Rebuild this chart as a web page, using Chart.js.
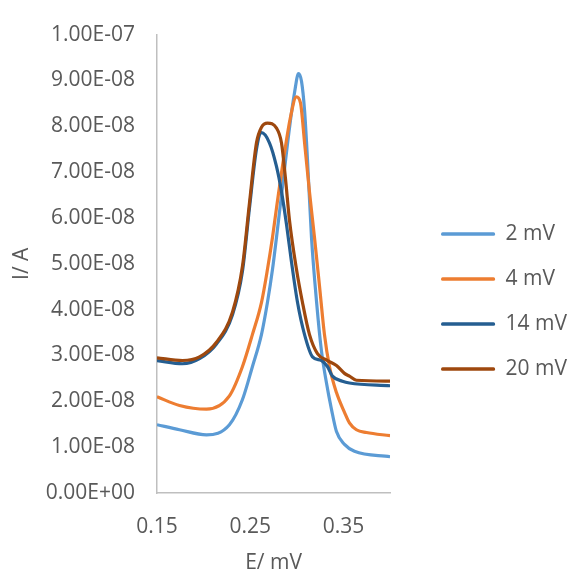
<!DOCTYPE html>
<html>
<head>
<meta charset="utf-8">
<script src="https://cdn.jsdelivr.net/npm/chart.js@4"></script>
<style>
  html, body { margin: 0; padding: 0; background: #fff; }
</style>
</head>
<body>
<canvas id="chart" width="568" height="575"></canvas>
<script>
// ---- values (E in V, I in A) ----
const e2 = [0.1500, 0.1741, 0.2031, 0.2277, 0.2417, 0.2524, 0.2621, 0.2685, 0.2739, 0.2782, 0.2847, 0.2922, 0.2975, 0.3018, 0.3050, 0.3083, 0.3114, 0.3157, 0.3212, 0.3264, 0.3318, 0.3371, 0.3425, 0.3511, 0.3618, 0.4000];
const i2 = [1.49e-8, 1.38e-8, 1.27e-8, 1.49e-8, 2.04e-8, 2.76e-8, 3.46e-8, 4.16e-8, 4.88e-8, 5.58e-8, 6.70e-8, 7.98e-8, 8.73e-8, 9.15e-8, 8.98e-8, 8.34e-8, 7.28e-8, 5.58e-8, 4.16e-8, 3.10e-8, 2.40e-8, 1.83e-8, 1.34e-8, 1.06e-8, 0.91e-8, 0.79e-8];

const e4 = [0.1500, 0.1741, 0.2031, 0.2277, 0.2417, 0.2524, 0.2621, 0.2685, 0.2739, 0.2782, 0.2866, 0.2932, 0.2995, 0.3039, 0.3083, 0.3135, 0.3189, 0.3243, 0.3296, 0.3350, 0.3425, 0.3511, 0.3564, 0.3639, 0.3747, 0.4000];
const i4 = [2.10e-8, 1.91e-8, 1.83e-8, 2.12e-8, 2.76e-8, 3.46e-8, 4.16e-8, 4.88e-8, 5.58e-8, 6.22e-8, 7.40e-8, 8.20e-8, 8.64e-8, 8.51e-8, 7.64e-8, 6.58e-8, 5.58e-8, 4.52e-8, 3.46e-8, 2.76e-8, 2.19e-8, 1.76e-8, 1.53e-8, 1.38e-8, 1.32e-8, 1.25e-8];

const e14 = [0.1500, 0.1773, 0.1956, 0.2138, 0.2310, 0.2417, 0.2492, 0.2567, 0.2621, 0.2706, 0.2781, 0.2835, 0.2889, 0.2942, 0.3007, 0.3082, 0.3168, 0.3264, 0.3328, 0.3382, 0.3489, 0.3564, 0.4000];
const i14 = [2.89e-8, 2.82e-8, 2.93e-8, 3.25e-8, 3.89e-8, 4.84e-8, 6.22e-8, 7.50e-8, 7.86e-8, 7.64e-8, 7.13e-8, 6.58e-8, 5.86e-8, 5.05e-8, 4.16e-8, 3.46e-8, 2.97e-8, 2.89e-8, 2.76e-8, 2.55e-8, 2.44e-8, 2.40e-8, 2.34e-8];

const e20 = [0.1500, 0.1773, 0.1956, 0.2138, 0.2310, 0.2417, 0.2492, 0.2567, 0.2621, 0.2685, 0.2782, 0.2835, 0.2878, 0.2921, 0.2996, 0.3060, 0.3135, 0.3221, 0.3328, 0.3425, 0.3511, 0.3564, 0.3639, 0.4000];
const i20 = [2.95e-8, 2.89e-8, 2.97e-8, 3.29e-8, 3.95e-8, 4.95e-8, 6.33e-8, 7.64e-8, 7.98e-8, 8.07e-8, 7.96e-8, 7.64e-8, 6.86e-8, 5.95e-8, 4.88e-8, 4.16e-8, 3.46e-8, 3.04e-8, 2.89e-8, 2.78e-8, 2.61e-8, 2.55e-8, 2.46e-8, 2.44e-8];

const seriesNames = ["2 mV", "4 mV", "14 mV", "20 mV"];
const seriesColors = ["#5B9BD5", "#ED7D31", "#255E91", "#9E480E"];
const xTicks = [0.15, 0.25, 0.35];

const xs = [e2, e4, e14, e20];
const ys = [i2, i4, i14, i20];

// excel style 1.00E-07
function sci(v) {
  const parts = v.toExponential(2).split("e");
  const n = parseInt(parts[1], 10);
  return parts[0] + "E" + (n < 0 ? "-" : "+") + String(Math.abs(n)).padStart(2, "0");
}

Chart.defaults.font.family = '"Open Sans", sans-serif';
Chart.defaults.font.size = 21;
Chart.defaults.color = "#595959";

const datasets = seriesNames.map((name, k) => ({
  label: name,
  data: xs[k].map((x, j) => ({ x: x, y: ys[k][j] })),
  showLine: true,
  borderColor: seriesColors[k],
  backgroundColor: seriesColors[k],
  borderWidth: 3.2,
  pointRadius: 0,
  cubicInterpolationMode: "monotone",
  order: seriesNames.length - 1 - k, // later series on top, like excel
}));

const axisGrey = "#bfbfbf";

new Chart(document.getElementById("chart"), {
  type: "scatter",
  data: { datasets },
  options: {
    responsive: false,
    animation: false,
    layout: { padding: { top: 22, right: -9, bottom: -6, left: 0 } },
    plugins: {
      tooltip: { enabled: false },
      legend: {
        position: "right",
        align: "center",
        maxWidth: 220,
        labels: {
          boxWidth: 54,
          boxHeight: 3.5,
          padding: 24,
          color: "#595959",
          font: { size: 21 },
          sort: (a, b) => a.datasetIndex - b.datasetIndex,
          generateLabels(chart) {
            const items = Chart.defaults.plugins.legend.labels.generateLabels(chart);
            return items.map((it) => Object.assign(it, {
              fillStyle: it.strokeStyle,
              lineWidth: 0,
              borderRadius: 1.5,
            }));
          },
          useBorderRadius: true,
          borderRadius: 1.5,
        },
      },
    },
    scales: {
      x: {
        type: "linear",
        min: 0.15,
        max: 0.4,
        grid: { display: false, drawTicks: false },
        border: { display: true, color: axisGrey, width: 1.5 },
        afterBuildTicks(scale) {
          scale.ticks = xTicks.map((v) => ({ value: v }));
        },
        ticks: {
          padding: 21,
          maxRotation: 0,
          callback: (v) => Number(v).toFixed(2),
        },
        title: { display: true, text: "E/ mV", padding: { top: 0, bottom: 5 } },
        afterFit(scale) { scale.height = 88; },
      },
      y: {
        type: "linear",
        min: 0,
        max: 1e-7,
        grid: { display: false, drawTicks: false },
        border: { display: true, color: axisGrey, width: 1.5 },
        ticks: {
          stepSize: 1e-8,
          padding: 22,
          callback: (v) => sci(v),
        },
        title: { display: true, text: "I/ A", padding: { top: 9, bottom: 0 } },
        afterFit(scale) { scale.width = 157; },
      },
      // empty strip between plot and legend
      gap: {
        type: "linear",
        position: "right",
        display: true,
        grid: { display: false, drawTicks: false },
        border: { display: false },
        ticks: { display: false },
        afterFit(scale) { scale.width = 27; },
      },
    },
  },
});
</script>
</body>
</html>
